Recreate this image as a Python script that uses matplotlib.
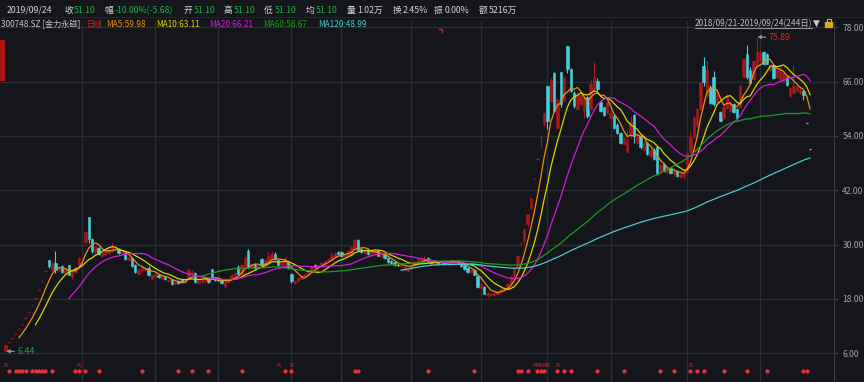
import numpy as np
import pandas as pd
import matplotlib
matplotlib.use('Agg')
import matplotlib.pyplot as plt
import matplotlib.transforms as mtransforms
from matplotlib.patches import Rectangle
from matplotlib.lines import Line2D

plt.rcParams['font.family'] = ['Noto Sans CJK SC', 'DejaVu Sans']

# daily K-line, 300748.SZ, 2018/09/21 - 2019/09/24
opens = [
    6.44, 8.50, 9.35, 10.29, 11.32, 12.45, 13.70, 15.07, 16.57, 18.23,
    20.05, 22.06, 24.27, 26.60, 24.40, 26.00, 24.30, 25.20, 23.80, 25.40,
    22.80, 24.00, 25.10, 29.81, 30.60, 36.07, 31.20, 28.30, 29.20, 27.60,
    28.00, 28.20, 28.60, 29.00, 29.00, 27.90, 28.20, 26.70, 27.00, 25.60,
    23.60, 24.30, 24.40, 24.90, 22.50, 23.00, 23.40, 22.50, 22.90, 21.90,
    22.20, 21.30, 22.00, 22.30, 21.80, 22.70, 23.60, 23.70, 21.60, 21.80,
    22.00, 22.60, 24.60, 22.40, 22.10, 22.20, 20.90, 21.70, 22.30, 23.00,
    25.00, 23.60, 25.30, 28.60, 25.10, 25.60, 25.00, 26.80, 25.50, 26.20,
    26.80, 28.00, 26.60, 25.50, 25.80, 26.20, 23.50, 21.60, 22.00, 22.50,
    23.00, 23.40, 24.20, 25.60, 25.00, 25.40, 25.80, 26.30, 26.50, 27.30,
    28.40, 28.40, 27.40, 27.60, 27.80, 29.20, 31.00, 29.00, 28.20, 28.90,
    27.80, 28.20, 28.70, 27.50, 27.90, 27.10, 26.30, 26.10, 25.40, 25.30,
    24.50, 24.20, 24.70, 25.40, 26.00, 26.30, 26.50, 27.00, 26.30, 25.80,
    26.20, 25.80, 26.10, 25.70, 25.80, 26.00, 26.40, 26.00, 25.40, 24.80,
    24.00, 24.50, 23.00, 20.40, 20.60, 18.80, 18.90, 18.80, 19.20, 19.60,
    19.90, 20.20, 21.40, 23.40, 25.00, 30.35, 31.00, 34.50, 38.00, 44.44,
    48.88, 53.77, 56.60, 65.06, 61.80, 68.00, 55.80, 68.20, 62.00, 73.80,
    68.80, 63.50, 60.00, 61.00, 59.50, 62.50, 60.00, 64.40, 66.20, 61.50,
    60.30, 59.00, 57.90, 58.50, 56.50, 54.60, 52.30, 50.40, 54.00, 58.60,
    52.50, 54.00, 51.00, 52.50, 49.50, 51.00, 51.50, 46.00, 47.80, 46.00,
    47.00, 45.50, 46.30, 45.00, 45.20, 46.00, 50.50, 54.00, 56.50, 60.00,
    69.50, 63.00, 64.90, 67.00, 61.50, 59.30, 58.00, 60.20, 59.50, 61.00,
    60.00, 60.40, 67.10, 72.00, 68.50, 66.50, 69.80, 70.50, 72.50, 72.00,
    68.50, 69.50, 67.00, 66.50, 66.20, 67.00, 62.80, 63.50, 64.00, 63.50,
    64.00, 56.78, 51.10,
]
highs = [
    7.73, 8.50, 9.35, 10.29, 11.32, 12.45, 13.70, 15.07, 16.57, 18.23,
    20.05, 22.06, 24.27, 26.70, 26.40, 28.70, 25.20, 25.60, 24.90, 25.60,
    24.40, 25.30, 27.30, 29.81, 32.79, 36.07, 31.50, 29.80, 29.40, 28.60,
    28.90, 29.20, 30.60, 29.50, 29.20, 28.50, 28.40, 27.40, 27.20, 25.80,
    24.80, 25.30, 25.20, 25.20, 23.40, 23.80, 23.60, 23.20, 23.10, 22.40,
    22.40, 21.90, 22.20, 22.50, 22.60, 24.80, 24.30, 24.00, 22.40, 22.70,
    22.50, 22.80, 24.70, 22.60, 22.30, 22.40, 22.20, 22.60, 23.50, 24.00,
    25.60, 25.70, 27.40, 29.00, 26.00, 25.90, 25.80, 27.00, 26.80, 28.30,
    28.50, 28.30, 26.90, 26.20, 27.30, 26.40, 23.80, 22.20, 22.80, 23.40,
    23.80, 24.50, 25.50, 25.80, 25.80, 26.20, 26.60, 27.10, 28.40, 28.40,
    28.70, 28.60, 28.20, 28.80, 29.70, 31.50, 31.30, 29.30, 29.10, 29.20,
    28.50, 28.90, 28.90, 28.10, 28.10, 27.30, 26.50, 26.30, 25.60, 25.70,
    25.20, 25.00, 25.70, 26.40, 27.00, 27.20, 27.60, 27.20, 26.50, 26.40,
    26.40, 26.30, 26.30, 26.30, 26.80, 26.70, 26.60, 26.20, 25.60, 25.00,
    24.50, 24.70, 23.20, 21.50, 20.80, 19.50, 19.40, 19.60, 20.00, 20.50,
    20.70, 21.60, 23.20, 25.10, 27.59, 30.35, 33.39, 36.73, 40.40, 44.44,
    48.88, 53.77, 59.15, 65.06, 66.80, 68.20, 62.40, 68.20, 67.10, 73.81,
    69.00, 64.00, 63.60, 63.50, 62.70, 62.80, 66.40, 70.30, 66.80, 62.00,
    60.50, 61.80, 59.40, 58.80, 56.80, 54.80, 53.80, 55.40, 58.50, 58.80,
    54.40, 54.30, 52.80, 52.70, 51.30, 51.40, 51.80, 47.80, 48.10, 47.30,
    47.20, 46.60, 46.50, 45.80, 46.00, 50.40, 55.30, 58.40, 60.20, 66.00,
    71.50, 70.50, 65.20, 68.30, 64.30, 59.60, 60.80, 63.30, 61.80, 61.20,
    60.20, 65.20, 71.20, 74.00, 69.20, 70.80, 75.89, 73.00, 72.70, 72.30,
    70.00, 69.80, 68.80, 69.20, 68.40, 67.20, 64.80, 69.60, 65.20, 64.50,
    64.20, 56.78, 51.10,
]
lows = [
    6.44, 8.50, 9.35, 10.29, 11.32, 12.45, 13.70, 15.07, 16.57, 18.23,
    20.05, 22.06, 24.27, 24.90, 24.00, 23.80, 23.90, 23.70, 23.50, 23.20,
    22.50, 23.80, 24.90, 29.81, 30.40, 30.40, 28.20, 28.00, 27.70, 27.30,
    27.60, 27.90, 28.40, 28.50, 27.90, 27.70, 26.60, 26.50, 25.00, 23.80,
    23.20, 24.00, 24.10, 23.10, 22.20, 22.80, 22.60, 22.30, 22.10, 21.70,
    21.00, 21.10, 21.30, 21.50, 21.60, 22.50, 23.30, 21.60, 21.40, 21.60,
    21.80, 21.60, 22.50, 21.90, 21.90, 21.40, 20.50, 21.50, 22.10, 22.80,
    23.30, 23.40, 25.10, 24.80, 24.90, 24.70, 24.80, 25.20, 25.30, 26.00,
    26.60, 26.60, 25.20, 25.30, 25.60, 24.60, 21.60, 21.20, 21.80, 22.30,
    22.80, 23.20, 24.00, 24.90, 24.80, 25.20, 25.60, 26.10, 26.30, 27.10,
    27.70, 27.20, 27.20, 27.40, 27.60, 28.90, 28.50, 28.20, 28.00, 27.80,
    27.60, 28.00, 27.40, 27.30, 26.80, 26.00, 25.70, 25.20, 25.20, 25.00,
    24.20, 24.00, 24.50, 25.20, 25.80, 26.10, 26.30, 26.00, 25.70, 25.60,
    25.60, 25.60, 25.50, 25.50, 25.60, 25.80, 25.80, 25.10, 24.40, 23.80,
    23.80, 23.20, 20.40, 20.10, 19.00, 18.50, 18.60, 18.60, 19.00, 19.40,
    19.70, 20.00, 21.20, 22.60, 24.80, 30.35, 30.40, 34.00, 37.80, 44.44,
    48.88, 51.50, 56.30, 55.60, 61.50, 59.30, 55.50, 60.50, 61.50, 68.00,
    63.60, 60.20, 59.70, 60.60, 57.90, 58.00, 59.80, 63.80, 64.00, 59.40,
    58.40, 58.80, 57.60, 55.60, 54.50, 52.30, 52.00, 50.20, 53.60, 52.40,
    52.20, 51.20, 50.60, 49.80, 49.20, 48.80, 45.40, 45.60, 46.10, 45.70,
    45.60, 45.20, 45.00, 44.70, 44.60, 45.80, 50.20, 53.60, 56.00, 59.80,
    65.00, 62.50, 61.00, 60.60, 61.20, 57.20, 57.80, 60.00, 59.30, 59.10,
    57.80, 60.20, 66.80, 66.50, 65.60, 66.30, 69.00, 70.30, 69.60, 69.80,
    68.30, 66.60, 66.80, 66.20, 66.00, 65.00, 62.60, 63.20, 63.80, 63.20,
    62.00, 56.78, 51.10,
]
closes = [
    7.73, 8.50, 9.35, 10.29, 11.32, 12.45, 13.70, 15.07, 16.57, 18.23,
    20.05, 22.06, 24.27, 25.20, 26.00, 24.30, 24.80, 23.90, 24.60, 23.40,
    24.20, 25.00, 27.10, 29.81, 32.79, 31.30, 28.60, 29.50, 28.00, 28.40,
    28.60, 28.90, 29.40, 29.20, 28.10, 28.30, 26.80, 27.20, 25.30, 24.00,
    24.40, 25.00, 24.90, 23.30, 23.20, 23.60, 22.80, 23.00, 22.30, 22.20,
    21.20, 21.70, 21.50, 21.70, 22.40, 24.50, 24.00, 21.80, 22.20, 22.50,
    22.30, 21.80, 22.80, 22.10, 22.10, 21.60, 21.80, 22.40, 23.30, 23.80,
    23.50, 25.50, 27.00, 25.20, 25.80, 24.90, 25.60, 25.40, 26.60, 27.50,
    28.00, 26.80, 25.40, 26.00, 27.00, 24.80, 21.90, 22.00, 22.60, 23.20,
    23.60, 24.30, 25.30, 25.10, 25.60, 26.00, 26.40, 26.90, 27.80, 28.20,
    27.90, 27.40, 28.00, 28.60, 29.50, 31.10, 28.80, 28.40, 28.90, 28.00,
    28.30, 28.60, 27.60, 27.90, 27.00, 26.20, 25.90, 25.40, 25.40, 25.50,
    25.00, 24.90, 25.50, 26.20, 26.80, 27.00, 26.80, 26.20, 25.90, 26.20,
    25.80, 26.10, 25.70, 26.10, 26.60, 26.50, 26.00, 25.30, 24.60, 24.00,
    24.30, 23.40, 20.60, 21.30, 19.20, 19.30, 19.20, 19.40, 19.80, 20.30,
    20.50, 21.40, 22.80, 25.08, 27.59, 30.35, 33.39, 36.73, 40.40, 44.44,
    48.88, 53.77, 59.15, 57.30, 66.30, 59.60, 62.00, 61.00, 67.00, 68.80,
    64.00, 60.60, 63.20, 63.00, 62.50, 58.30, 65.50, 67.00, 64.30, 59.60,
    58.60, 61.50, 59.00, 55.80, 54.70, 52.50, 53.50, 53.00, 57.00, 54.00,
    54.00, 51.50, 52.50, 50.00, 51.00, 49.00, 45.70, 47.50, 46.30, 47.00,
    45.80, 46.30, 45.20, 45.60, 45.80, 50.30, 53.80, 58.20, 60.00, 66.00,
    66.00, 68.50, 61.20, 61.00, 64.00, 57.40, 60.50, 63.00, 61.50, 59.30,
    58.00, 65.00, 71.00, 67.00, 65.80, 70.50, 72.50, 72.50, 69.80, 70.00,
    69.70, 66.80, 68.50, 68.50, 68.00, 65.20, 64.50, 65.00, 64.80, 64.13,
    63.09, 56.78, 51.10,
]

month_start_idx = [23, 45, 64, 86, 101, 122, 143, 163, 182, 205, 227]
price_ticks = [6, 18, 30, 42, 54, 66, 78]
star_idx = [1, 3, 4, 5, 6, 8, 9, 10, 11, 12, 14, 21, 22, 24, 28, 41, 52, 56,
            61, 71, 84, 86, 105, 106, 127, 141, 154, 155, 157, 160, 161, 162,
            166, 168, 170, 178, 186, 197, 201, 206, 208, 210, 216, 223, 229,
            240, 241]
r_idx = [0, 22, 82, 86, 159, 160, 161, 162, 163, 166, 206]
ma_periods = [5, 10, 20, 60, 120]
ma_colors = ['#e8901c', '#d8d400', '#d21ed2', '#1e9a22', '#4cc8cc']

BG = '#14161b'
UP = '#a8171b'
DOWN = '#46d0da'
FLAT = '#d0d0d0'
GRID = '#2a2c31'

fig = plt.figure(figsize=(8.64, 3.82), dpi=100, facecolor=BG)
ax = fig.add_axes([0, 0, 834 / 864, 360 / 382])
ax.set_facecolor(BG)
ax.set_xlim(-1.685, 249.2)
ax.set_ylim(-0.338, 79.17)
for side in ['left', 'top', 'bottom']:
    ax.spines[side].set_visible(False)
ax.spines['right'].set_color('#3a3c42')
ax.set_xticks([])
ax.yaxis.tick_right()
ax.set_yticks(price_ticks)
ax.set_yticklabels([f'{p:.2f}' for p in price_ticks])
ax.tick_params(axis='y', length=3, width=1, color='#3a3c42',
               labelcolor='#a4a4a4', labelsize=6.2, pad=3)
ax.set_axisbelow(True)
ax.grid(axis='y', color=GRID, lw=1)
for m in month_start_idx:
    ax.axvline(m, color=GRID, lw=1, zorder=0)

o = np.array(opens)
h = np.array(highs)
l = np.array(lows)
c = np.array(closes)
x = np.arange(len(c))
prev = np.r_[o[0], c[:-1]]
cols = []
for i in range(len(c)):
    if c[i] > o[i] or (c[i] == o[i] and c[i] > prev[i]):
        cols.append(UP)
    elif c[i] < o[i] or (c[i] == o[i] and c[i] < prev[i]):
        cols.append(DOWN)
    else:
        cols.append(FLAT)
cols = np.array(cols)

ax.vlines(x, l, h, colors=cols, lw=0.8, zorder=2)
body = np.abs(c - o)
flat = body == 0
ax.bar(x[~flat], body[~flat], bottom=np.minimum(o, c)[~flat], width=0.72,
       color=cols[~flat], edgecolor=cols[~flat], linewidth=0.4, zorder=3)
ax.hlines(c[flat], x[flat] - 0.36, x[flat] + 0.36, colors=cols[flat], lw=1.0, zorder=3)

s = pd.Series(c)
for n, col in zip(ma_periods, ma_colors):
    ax.plot(x, s.rolling(n).mean(), color=col, lw=0.9, zorder=4)

# highest / lowest marks
ax.annotate('6.44', xy=(0.2, 6.44), xytext=(11, 0), textcoords='offset pixels',
            ha='left', va='center', fontsize=6.4, color='#22a040',
            arrowprops=dict(arrowstyle='-|>', color='#9a9a9a', lw=0.8,
                            mutation_scale=5, shrinkA=0, shrinkB=0))
ax.annotate('75.89', xy=(226.2, 75.89), xytext=(11, -1), textcoords='offset pixels',
            ha='left', va='center', fontsize=6.4, color='#d02828',
            arrowprops=dict(arrowstyle='-|>', color='#9a9a9a', lw=0.8,
                            mutation_scale=5, shrinkA=0, shrinkB=0))

# bottom signal marks
trans = mtransforms.blended_transform_factory(ax.transData, ax.transAxes)
ax.plot(star_idx, [0.0306] * len(star_idx), transform=trans, ls='none',
        marker='*', ms=2.8, color='#e8303a', mec='#e8303a', clip_on=False)
for i in r_idx:
    ax.text(i, 0.047, 'R', transform=trans, ha='center', va='center',
            fontsize=4.4, color='#c82a2a', family='DejaVu Sans')

# header
def ftext(px, py, s, color, size=6.2, ha='left', **kw):
    fig.text(px / 864, 1 - py / 382, s, color=color, fontsize=size,
             ha=ha, va='center', **kw)

W = '#d4d4d4'
G = '#22b048'
row1 = [(7, '2019/09/24', W), (64, '收', W), (74, '51.10', G),
        (104, '幅', W), (115, '-10.00%(-5.68)', G), (184, '开', W), (194, '51.10', G),
        (224, '高', W), (234, '51.10', G), (264, '低', W), (275, '51.10', G),
        (306, '均', W), (316, '51.10', G), (347, '量', W), (357, '1.02万', W),
        (393, '换', W), (403, '2.45%', W), (434, '振', W), (445, '0.00%', W),
        (479, '额', W), (489, '5216万', W)]
for px, s_, col in row1:
    ftext(px, 10.5, s_, col, size=6.3)

row2 = [(1, '300748.SZ [金力永磁]', '#c8c8c8'), (87, '日线', '#e02424'),
        (106, 'MA5:59.98', ma_colors[0]), (156, 'MA10:63.11', ma_colors[1]),
        (209, 'MA20:66.21', ma_colors[2]), (263, 'MA60:58.67', ma_colors[3]),
        (318, 'MA120:48.99', ma_colors[4])]
for px, s_, col in row2:
    ftext(px, 24.5, s_, col, size=5.9)

ftext(812, 23.5, '2018/09/21-2019/09/24(244日)', '#c0c0c0', size=6.0, ha='right')
fig.add_artist(Line2D([695 / 864, 812 / 864], [1 - 28 / 382] * 2, color='#b0b0b0', lw=0.6))
ftext(816.5, 23.5, '▼', '#c8c8c8', size=6.5, ha='center', family='DejaVu Sans')
fig.add_artist(Rectangle((825 / 864, 1 - 27 / 382), 7 / 864, 5 / 382, color='#d8a820'))
fig.add_artist(Line2D([826.5 / 864, 826.5 / 864, 831 / 864, 831 / 864],
                      [1 - 22 / 382, 1 - 19 / 382, 1 - 19 / 382, 1 - 21 / 382],
                      color='#d8a820', lw=0.8))
fig.add_artist(Line2D([0, 1], [1 - 17 / 382] * 2, color='#25272c', lw=0.8))

# left edge tab and the small red flag near the top
fig.add_artist(Rectangle((0, 1 - 80 / 382), 4 / 864, 40 / 382, color='#b01414'))
fig.add_artist(Line2D([439 / 864, 442 / 864, 442 / 864],
                      [1 - 29 / 382, 1 - 29 / 382, 1 - 32 / 382],
                      color='#d02020', lw=1.0))

fig.savefig('out.png', dpi=100, facecolor=BG)
